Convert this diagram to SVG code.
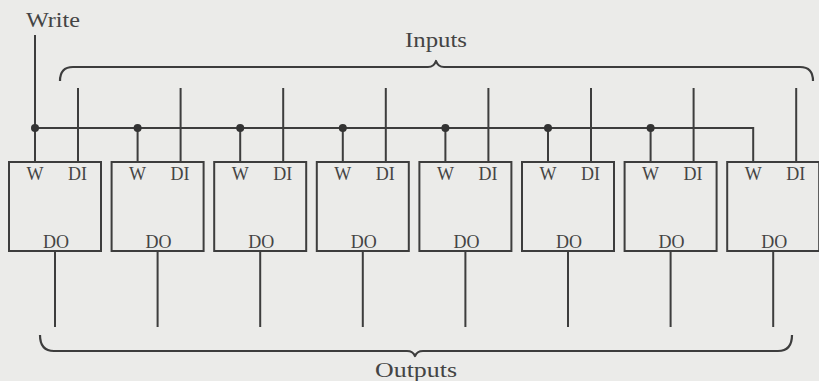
<svg xmlns="http://www.w3.org/2000/svg" width="819" height="381" viewBox="0 0 819 381">
<style>
.bg{fill:#ebebe9}
.box{fill:none;stroke:#3d3d3d;stroke-width:2}
.ln{fill:none;stroke:#3d3d3d;stroke-width:2}
.br{fill:none;stroke:#3d3d3d;stroke-width:2.2;stroke-linejoin:round}
.dot{fill:#333}
.lb{font-family:"Liberation Serif","Times New Roman",serif;font-size:18px;fill:#444;text-anchor:middle}
.tt{font-family:"Liberation Serif","Times New Roman",serif;font-size:21px;fill:#444;text-anchor:middle}
</style>
<rect class="bg" x="0" y="0" width="819" height="381"/>
<g id="labels">
<text class="tt" x="53" y="27" textLength="54" lengthAdjust="spacingAndGlyphs">Write</text>
<text class="tt" x="436" y="47" textLength="62" lengthAdjust="spacingAndGlyphs">Inputs</text>
<text class="tt" x="416" y="377" textLength="82" lengthAdjust="spacingAndGlyphs">Outputs</text>
</g>
<g id="connectors">
<path class="br" d="M60,81 Q60,67 73,67 L428,67 Q434,67 436,61 Q438,67 444,67 L800,67 Q813,67 813,81"/>
<path class="br" d="M40,335 Q40,351 54,351 L407,351 Q413,351 415,356 Q417,351 423,351 L778,351 Q792,351 792,335"/>
<path class="ln" d="M35,35 V162"/>
<path class="ln" d="M35,128 H753.2 V162"/>
<path class="ln" d="M137.6,128 V162 M240.2,128 V162 M342.8,128 V162 M445.4,128 V162 M548,128 V162 M650.6,128 V162"/>
<path class="ln" d="M78,88 V162 M180.6,88 V162 M283.2,88 V162 M385.8,88 V162 M488.4,88 V162 M591,88 V162 M693.6,88 V162 M796.2,88 V162"/>
<path class="ln" d="M55,251 V327 M157.6,251 V327 M260.2,251 V327 M362.8,251 V327 M465.4,251 V327 M568,251 V327 M670.6,251 V327 M773.2,251 V327"/>
<circle class="dot" cx="35" cy="128" r="4"/>
<circle class="dot" cx="137.6" cy="128" r="4"/>
<circle class="dot" cx="240.2" cy="128" r="4"/>
<circle class="dot" cx="342.8" cy="128" r="4"/>
<circle class="dot" cx="445.4" cy="128" r="4"/>
<circle class="dot" cx="548" cy="128" r="4"/>
<circle class="dot" cx="650.6" cy="128" r="4"/>
</g>
<g id="cell1"><rect class="box" x="9" y="162" width="92" height="89"/><text class="lb" x="35" y="180">W</text><text class="lb" x="77.5" y="180">DI</text><text class="lb" x="56" y="248">DO</text></g>
<g id="cell2"><rect class="box" x="111.6" y="162" width="92" height="89"/><text class="lb" x="137.6" y="180">W</text><text class="lb" x="180.1" y="180">DI</text><text class="lb" x="158.6" y="248">DO</text></g>
<g id="cell3"><rect class="box" x="214.2" y="162" width="92" height="89"/><text class="lb" x="240.2" y="180">W</text><text class="lb" x="282.7" y="180">DI</text><text class="lb" x="261.2" y="248">DO</text></g>
<g id="cell4"><rect class="box" x="316.8" y="162" width="92" height="89"/><text class="lb" x="342.8" y="180">W</text><text class="lb" x="385.3" y="180">DI</text><text class="lb" x="363.8" y="248">DO</text></g>
<g id="cell5"><rect class="box" x="419.4" y="162" width="92" height="89"/><text class="lb" x="445.4" y="180">W</text><text class="lb" x="487.9" y="180">DI</text><text class="lb" x="466.4" y="248">DO</text></g>
<g id="cell6"><rect class="box" x="522" y="162" width="92" height="89"/><text class="lb" x="548" y="180">W</text><text class="lb" x="590.5" y="180">DI</text><text class="lb" x="569" y="248">DO</text></g>
<g id="cell7"><rect class="box" x="624.6" y="162" width="92" height="89"/><text class="lb" x="650.6" y="180">W</text><text class="lb" x="693.1" y="180">DI</text><text class="lb" x="671.6" y="248">DO</text></g>
<g id="cell8"><rect class="box" x="727.2" y="162" width="92" height="89"/><text class="lb" x="753.2" y="180">W</text><text class="lb" x="795.7" y="180">DI</text><text class="lb" x="774.2" y="248">DO</text></g>
</svg>
